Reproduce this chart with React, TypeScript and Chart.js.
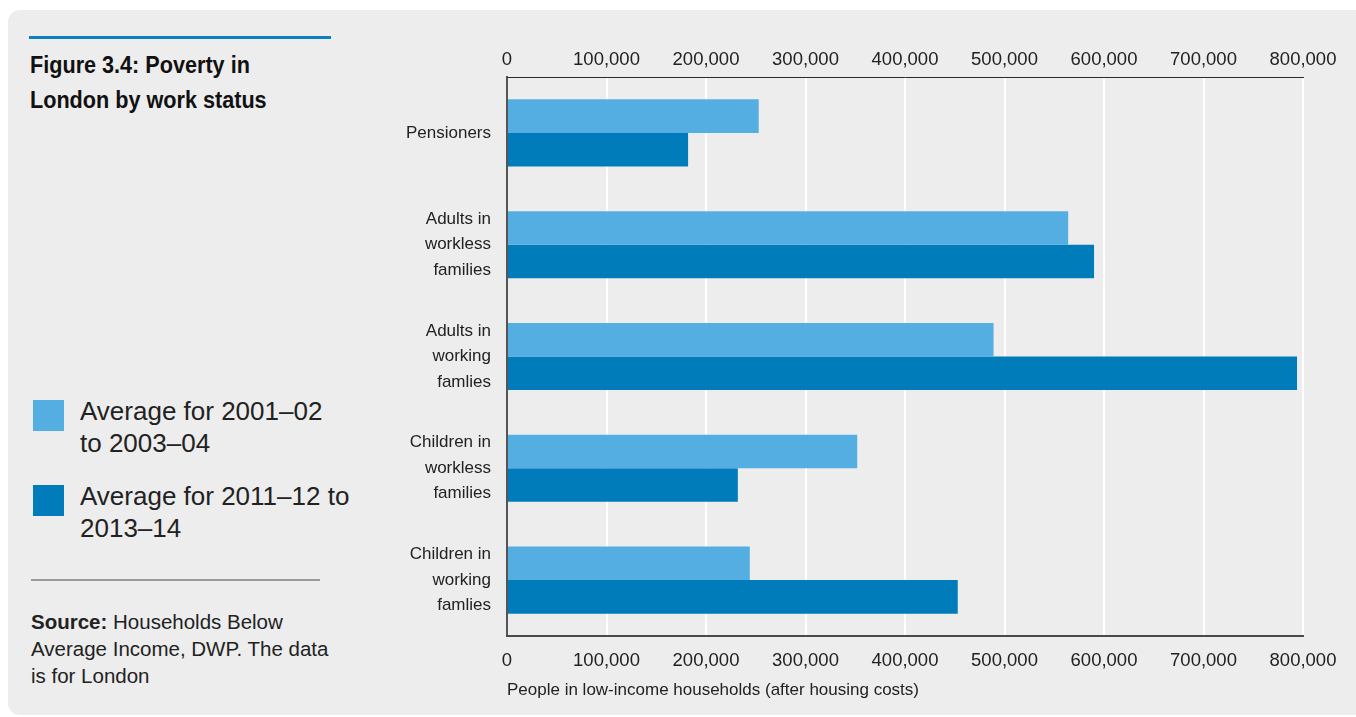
import React, { useEffect, useRef } from "react";
import { Chart, registerables } from "chart.js";

Chart.register(...registerables);

const categories: (string | string[])[] = [
  "Pensioners",
  ["Adults in", "workless", "families"],
  ["Adults in", "working", "famlies"],
  ["Children in", "workless", "families"],
  ["Children in", "working", "famlies"],
];

const seriesLabels = ["Average for 2001–02 to 2003–04", "Average for 2011–12 to 2013–14"];
const legendLines = [
  ["Average for 2001–02", "to 2003–04"],
  ["Average for 2011–12 to", "2013–14"],
];
const early = [253000, 564000, 489000, 352000, 244000];
const recent = [182000, 590000, 794000, 232000, 453000];
const axisMin = 0;
const axisMax = 800000;
const axisStep = 100000;
const axisTitle = "People in low-income households (after housing costs)";

const LIGHT = "#55aee2";
const DARK = "#007cba";
const FONT = "'Liberation Sans', Arial, Helvetica, sans-serif";

const fmt = (v: number | string) => Number(v).toLocaleString("en-US");

export default function App() {
  const ref = useRef<HTMLCanvasElement | null>(null);

  useEffect(() => {
    if (!ref.current) return;
    const tickFont = { family: FONT, size: 18.5 };
    const chart = new Chart(ref.current, {
      type: "bar",
      data: {
        labels: categories as any,
        datasets: [
          {
            label: seriesLabels[0],
            data: early,
            backgroundColor: LIGHT,
            categoryPercentage: 0.6,
            barPercentage: 1.0,
          },
          {
            label: seriesLabels[1],
            data: recent,
            backgroundColor: DARK,
            categoryPercentage: 0.6,
            barPercentage: 1.0,
          },
        ],
      },
      options: {
        indexAxis: "y",
        responsive: false,
        animation: false,
        layout: { padding: { left: 0, right: 53, top: 0, bottom: 0 } },
        plugins: {
          legend: { display: false },
          tooltip: { enabled: false },
        },
        scales: {
          y: {
            type: "category",
            grid: { display: false },
            border: { display: true, color: "#555", width: 2 },
            ticks: {
              font: { family: FONT, size: 17, lineHeight: 1.5 },
              color: "#222",
              padding: 8,
            },
            afterFit: (s: any) => {
              s.width = 107;
              s.paddingTop = 0;
              s.paddingBottom = 0;
            },
          },
          x: {
            type: "linear",
            position: "bottom",
            min: axisMin,
            max: axisMax,
            grid: { color: "#ffffff", lineWidth: 2, drawTicks: false },
            border: { display: true, color: "#4a4a4a", width: 2 },
            ticks: {
              stepSize: axisStep,
              font: tickFont,
              color: "#222",
              padding: 14,
              callback: (v: any) => fmt(v),
            },
            title: {
              display: true,
              text: axisTitle,
              align: "start",
              color: "#222",
              font: { family: FONT, size: 17 },
              padding: { top: 16, bottom: 16 },
            },
            afterFit: (s: any) => {
              s.height = 81;
            },
          },
          x2: {
            type: "linear",
            axis: "x",
            position: "top",
            min: axisMin,
            max: axisMax,
            grid: { display: false, drawTicks: false },
            border: { display: true, color: "#2a2a2a", width: 1 },
            ticks: {
              stepSize: axisStep,
              font: tickFont,
              color: "#222",
              padding: 6,
              callback: (v: any) => fmt(v),
            },
            afterFit: (s: any) => {
              s.height = 47;
            },
          },
        } as any,
      },
    });
    return () => chart.destroy();
  }, []);

  const text = "#222";

  return (
    <div
      style={{
        position: "fixed",
        left: 0,
        top: 0,
        width: 1356,
        height: 717,
        overflow: "hidden",
        background: "#ffffff",
        fontFamily: FONT,
        color: text,
      }}
    >
      <div
        style={{
          position: "absolute",
          left: 8,
          top: 10,
          width: 1380,
          height: 705,
          background: "#ededed",
          borderRadius: 12,
        }}
      />
      <div
        style={{
          position: "absolute",
          left: 29,
          top: 36,
          width: 302,
          height: 3,
          background: "#0b7fc0",
        }}
      />
      <div
        style={{
          position: "absolute",
          left: 30,
          top: 48,
          fontSize: 23,
          lineHeight: "35px",
          fontWeight: 700,
          whiteSpace: "nowrap",
          transform: "scaleX(0.94)",
          transformOrigin: "left top",
          color: "#111",
        }}
      >
        Figure 3.4: Poverty in
        <br />
        London by work status
      </div>

      {legendLines.map((lines, i) => (
        <React.Fragment key={i}>
          <div
            style={{
              position: "absolute",
              left: 33,
              top: i === 0 ? 400 : 485,
              width: 31,
              height: 31,
              background: i === 0 ? LIGHT : DARK,
            }}
          />
          <div
            style={{
              position: "absolute",
              left: 80,
              top: i === 0 ? 395 : 480,
              fontSize: 26,
              lineHeight: "32px",
              whiteSpace: "nowrap",
            }}
          >
            {lines[0]}
            <br />
            {lines[1]}
          </div>
        </React.Fragment>
      ))}

      <div
        style={{
          position: "absolute",
          left: 31,
          top: 579,
          width: 289,
          height: 2,
          background: "#9a9a9a",
        }}
      />
      <div
        style={{
          position: "absolute",
          left: 31,
          top: 608,
          fontSize: 20.5,
          lineHeight: "27px",
          whiteSpace: "nowrap",
        }}
      >
        <b>Source:</b> Households Below
        <br />
        Average Income, DWP. The data
        <br />
        is for London
      </div>

      <canvas
        ref={ref}
        width={956}
        height={687}
        style={{ position: "absolute", left: 400, top: 30, width: 956, height: 687 }}
      />
    </div>
  );
}
